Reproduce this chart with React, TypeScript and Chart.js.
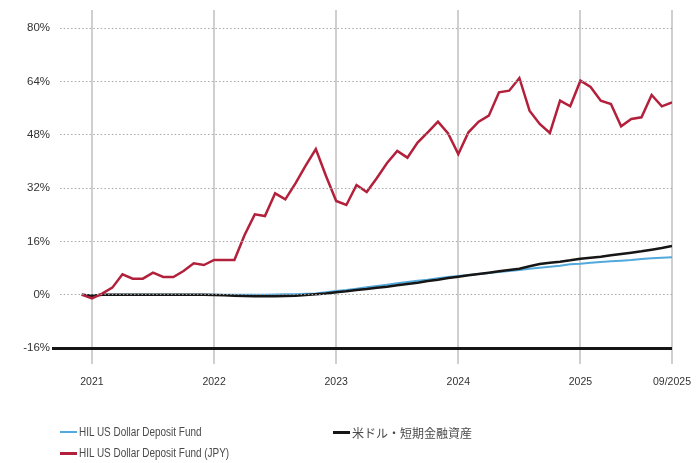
import React, { useEffect, useRef } from 'react';
import { Chart, registerables } from 'chart.js';

Chart.register(...registerables);

// Month-end observation dates
const months = [
  '2020-11', '2020-12',
  '2021-01', '2021-02', '2021-03', '2021-04', '2021-05', '2021-06', '2021-07', '2021-08', '2021-09', '2021-10', '2021-11', '2021-12',
  '2022-01', '2022-02', '2022-03', '2022-04', '2022-05', '2022-06', '2022-07', '2022-08', '2022-09', '2022-10', '2022-11', '2022-12',
  '2023-01', '2023-02', '2023-03', '2023-04', '2023-05', '2023-06', '2023-07', '2023-08', '2023-09', '2023-10', '2023-11', '2023-12',
  '2024-01', '2024-02', '2024-03', '2024-04', '2024-05', '2024-06', '2024-07', '2024-08', '2024-09', '2024-10', '2024-11', '2024-12',
  '2025-01', '2025-02', '2025-03', '2025-04', '2025-05', '2025-06', '2025-07', '2025-08', '2025-09',
];

// HIL US Dollar Deposit Fund (%)
const usdFund = [
  0, -0.2,
  0, 0, 0, 0, 0, 0, 0, 0, 0, 0, 0, 0,
  0, 0, 0, 0, 0, 0.05, 0.1, 0.15, 0.25, 0.35, 0.7, 1.1,
  1.4, 1.8, 2.2, 2.6, 3.0, 3.4, 3.8, 4.2, 4.5, 4.9, 5.3, 5.6,
  5.9, 6.2, 6.5, 6.8, 7.1, 7.4, 7.8, 8.1, 8.4, 8.7, 9.1, 9.3,
  9.6, 9.8, 10.0, 10.2, 10.4, 10.7, 10.9, 11.1, 11.2,
];

// HIL US Dollar Deposit Fund (JPY) (%)
const jpyFund = [
  0, -1.1,
  0.3, 2.1, 6.1, 4.8, 4.8, 6.6, 5.3, 5.3, 7.1, 9.4, 8.9, 10.4,
  10.4, 10.4, 17.9, 24.1, 23.6, 30.4, 28.6, 33.4, 38.7, 43.7, 35.6, 28.1,
  26.9, 32.9, 30.8, 35.0, 39.5, 43.1, 41.1, 45.6, 48.7, 51.9, 48.4, 42.2,
  48.7, 51.9, 53.7, 60.7, 61.2, 65.0, 55.2, 51.2, 48.5, 58.2, 56.5, 64.2,
  62.3, 58.2, 57.2, 50.5, 52.7, 53.2, 59.9, 56.5, 57.7,
];

// 米ドル・短期金融資産 (%)
const usdMoneyMarket = [
  0, -0.3,
  0, 0, 0, 0, 0, 0, 0, 0, 0, 0, 0, -0.1,
  -0.2, -0.3, -0.4, -0.5, -0.5, -0.5, -0.4, -0.3, -0.1, 0.1, 0.35, 0.7,
  1.0, 1.4, 1.7, 2.1, 2.4, 2.8, 3.2, 3.6, 4.1, 4.5, 5.0, 5.4,
  5.8, 6.2, 6.6, 7.0, 7.4, 7.8, 8.5, 9.2, 9.6, 9.9, 10.3, 10.8,
  11.1, 11.4, 11.8, 12.2, 12.6, 13.0, 13.5, 14.0, 14.6,
];

const seriesNames = [
  'HIL US Dollar Deposit Fund',
  'HIL US Dollar Deposit Fund (JPY)',
  '米ドル・短期金融資産',
];

const tickMonths = ['2020-12', '2021-12', '2022-12', '2023-12', '2024-12', '2025-09'];
const tickLabels = ['2021', '2022', '2023', '2024', '2025', '09/2025'];
const yTicks = [-16, 0, 16, 32, 48, 64, 80];

const BLUE = '#52a9dc';
const RED = '#b3203b';
const BLACK = '#161616';
const FONT = '"Liberation Sans Narrow", "Arial Narrow", "Liberation Sans", Arial, sans-serif';
const CJK = '"Noto Sans CJK JP", "Noto Sans CJK SC", sans-serif';
const TEXT = '#333333';

function monthPos(m: string): number {
  const [y, mo] = m.split('-').map(Number);
  return (y - 2020) * 12 + mo - 12;
}

export default function App() {
  const ref = useRef<HTMLCanvasElement>(null);

  useEffect(() => {
    const toPts = (vals: number[]) => months.map((m, i) => ({ x: monthPos(m), y: vals[i] }));
    const chart = new Chart(ref.current as HTMLCanvasElement, {
      type: 'line',
      data: {
        datasets: [
          { label: seriesNames[1], data: toPts(jpyFund), borderColor: RED, borderWidth: 2.5, pointRadius: 0, tension: 0, order: 0 },
          { label: seriesNames[2], data: toPts(usdMoneyMarket), borderColor: BLACK, borderWidth: 2.5, pointRadius: 0, tension: 0, order: 1 },
          { label: seriesNames[0], data: toPts(usdFund), borderColor: BLUE, borderWidth: 2, pointRadius: 0, tension: 0, order: 2 },
        ],
      },
      options: {
        responsive: false,
        animation: false,
        layout: { padding: { top: 10, right: 27, left: 0, bottom: 0 } },
        plugins: { legend: { display: false }, tooltip: { enabled: false } },
        scales: {
          x: {
            type: 'linear',
            min: -3.14,
            max: monthPos('2025-09'),
            afterBuildTicks: (s: any) => {
              s.ticks = tickMonths.map((m) => ({ value: monthPos(m) }));
            },
            afterFit: (s: any) => {
              s.height = 115;
              s.paddingRight = 0;
              s.paddingLeft = 0;
            },
            ticks: {
              autoSkip: false,
              maxRotation: 0,
              padding: 12,
              color: TEXT,
              font: { family: FONT, size: 10.5 },
              callback: (_v: any, i: number) => tickLabels[i],
            },
            grid: { color: '#cfcfcf', lineWidth: 2, tickLength: 16, tickColor: '#cfcfcf', z: 0 },
            border: { display: false },
          },
          y: {
            type: 'linear',
            min: -16,
            max: 85.4,
            afterBuildTicks: (s: any) => {
              s.ticks = yTicks.map((v) => ({ value: v }));
            },
            afterFit: (s: any) => {
              s.width = 60;
            },
            ticks: {
              padding: 2,
              color: TEXT,
              font: { family: FONT, size: 11.5 },
              callback: (v: any) => `${v}%`,
            },
            grid: {
              color: (c: any) => (c.tick && c.tick.value === -16 ? BLACK : '#a8a8a8'),
              lineWidth: (c: any) => (c.tick && c.tick.value === -16 ? 3 : 1),
              tickLength: 8,
              tickColor: (c: any) => (c.tick && c.tick.value === -16 ? BLACK : 'rgba(0,0,0,0)'),
              tickWidth: 3,
              z: 1,
            },
            border: {
              display: false,
              dash: (c: any) => (c.tick && c.tick.value === -16 ? [] : [1.5, 2.2]),
            },
          },
        },
      },
    } as any);
    return () => chart.destroy();
  }, []);

  const legendItems = [
    { name: seriesNames[0], color: BLUE, thick: 2, left: 60, top: 425, cjk: false },
    { name: seriesNames[2], color: BLACK, thick: 3, left: 333, top: 425, cjk: true },
    { name: seriesNames[1], color: RED, thick: 3, left: 60, top: 446, cjk: false },
  ];

  return (
    <div style={{ position: 'fixed', left: 0, top: 0, width: 699, height: 463, background: '#fff', overflow: 'hidden' }}>
      <canvas ref={ref} width={699} height={463} style={{ display: 'block' }} />
      {legendItems.map((it) => (
        <div
          key={it.name}
          style={{
            position: 'absolute',
            left: it.left,
            top: it.top,
            height: 14,
            display: 'flex',
            alignItems: 'center',
            whiteSpace: 'nowrap',
            color: '#4a4a4a',
          }}
        >
          <span style={{ display: 'inline-block', width: 17, height: it.thick, background: it.color, marginRight: 2 }} />
          <span
            style={
              it.cjk
                ? { fontFamily: CJK, fontSize: 12 }
                : { fontFamily: FONT, fontSize: 12, display: 'inline-block', transform: 'scaleX(0.83)', transformOrigin: 'left center' }
            }
          >
            {it.name}
          </span>
        </div>
      ))}
    </div>
  );
}
